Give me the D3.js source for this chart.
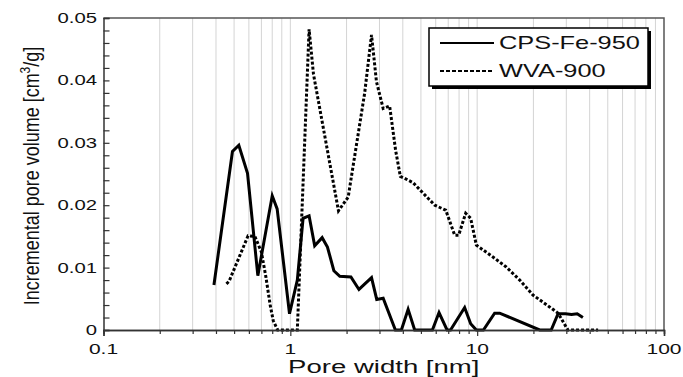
<!DOCTYPE html>
<html>
<head>
<meta charset="utf-8">
<script src="https://cdn.jsdelivr.net/npm/d3@7"></script>
<style>
  body { margin: 0; background: #fff; }
  text { font-family: "Liberation Sans", Arial, sans-serif; fill: #111; }
</style>
</head>
<body>
<script>
// CPS-Fe-950 (solid)
const cpsX = [0.39, 0.49, 0.53, 0.59, 0.67, 0.80, 0.85, 0.92, 0.99, 1.09, 1.17, 1.26, 1.35, 1.48, 1.58, 1.71, 1.84, 2.11, 2.33, 2.72, 2.9, 3.14, 3.65, 3.93, 4.27, 4.63, 5.76, 6.25, 6.9, 7.2, 8.57, 9.23, 9.9, 10.8, 12.4, 13.2, 21.6, 24.9, 27.1, 29.7, 32, 34.3, 36.8];
const cpsY = [0.0072, 0.0286, 0.0296, 0.0251, 0.0087, 0.0215, 0.0194, 0.0107, 0.0026, 0.008, 0.0179, 0.0183, 0.0135, 0.0148, 0.0133, 0.0095, 0.0086, 0.0085, 0.0065, 0.0084, 0.0049, 0.0051, 0, 0, 0.0033, 0, 0, 0.0028, 0, 0, 0.0036, 0.001, 0, 0, 0.0027, 0.0027, 0, 0, 0.0026, 0.0026, 0.0025, 0.0026, 0.002];

// WVA-900 (dotted)
const wvaX = [0.455, 0.47, 0.594, 0.646, 0.70, 0.74, 0.78, 0.81, 0.855, 1.09, 1.26, 1.33, 1.81, 2.04, 2.5, 2.72, 2.89, 3.14, 3.40, 3.66, 3.88, 4.09, 4.54, 5.93, 6.79, 7.58, 7.96, 8.68, 9.23, 9.9, 12.15, 14.3, 16.9, 19.9, 24.4, 27.1, 30.6, 44.4];
const wvaY = [0.0074, 0.0078, 0.0151, 0.0150, 0.0125, 0.0085, 0.004, 0.0015, 0, 0, 0.0482, 0.041, 0.0191, 0.0213, 0.038, 0.0473, 0.0398, 0.0355, 0.0359, 0.0288, 0.0246, 0.0243, 0.0236, 0.0200, 0.0192, 0.0152, 0.0152, 0.0187, 0.0179, 0.0136, 0.0117, 0.0101, 0.0080, 0.0056, 0.0037, 0.0027, 0, 0];

const xMajor = [0.1, 1, 10, 100];
const xMajorLabels = ['0.1', '1', '10', '100'];
const yMajor = [0, 0.01, 0.02, 0.03, 0.04, 0.05];
const yMajorLabels = ['0', '0.01', '0.02', '0.03', '0.04', '0.05'];
const seriesNames = ['CPS-Fe-950', 'WVA-900'];

const W = 683, H = 377;
const L = 103.5, R = 664, T = 18, B = 330;
const SX = 1.45; // horizontal text stretch of the original figure

const x = d3.scaleLog().domain([0.1, 100]).range([L, R]);
const y = d3.scaleLinear().domain([0, 0.05]).range([B, T]);

const svg = d3.select('body').append('svg')
    .attr('width', W)
    .attr('height', H);

// minor log positions
const xMinor = [];
[0.1, 1, 10].forEach(d => {
    for (let k = 2; k <= 9; k++) xMinor.push(d * k);
});

// vertical grid
svg.append('g')
    .selectAll('line')
    .data(xMinor.concat([1, 10]))
    .enter()
    .append('line')
    .attr('x1', d => x(d))
    .attr('x2', d => x(d))
    .attr('y1', T)
    .attr('y2', B)
    .attr('stroke', '#d4d4d4')
    .attr('stroke-width', 1);

// series
const line = d3.line()
    .x(d => x(d[0]))
    .y(d => y(d[1]));

svg.append('path')
    .datum(wvaX.map((v, i) => [v, wvaY[i]]))
    .attr('d', line)
    .attr('fill', 'none')
    .attr('stroke', '#000')
    .attr('stroke-width', 3)
    .attr('stroke-dasharray', '3,2');

svg.append('path')
    .datum(cpsX.map((v, i) => [v, cpsY[i]]))
    .attr('d', line)
    .attr('fill', 'none')
    .attr('stroke', '#000')
    .attr('stroke-width', 3)
    .attr('stroke-linejoin', 'miter');

// frame top/right
svg.append('path')
    .attr('d', `M${L},${T}H${R}V${B}`)
    .attr('fill', 'none')
    .attr('stroke', '#555')
    .attr('stroke-width', 1.5);

// x axis
const xAxisMinor = d3.axisBottom(x).tickValues(xMinor).tickSize(4).tickFormat('');
const xAxisMajor = d3.axisBottom(x).tickValues(xMajor).tickSize(6).tickFormat('');
svg.append('g').attr('transform', `translate(0,${B})`).call(xAxisMinor);
svg.append('g').attr('transform', `translate(0,${B})`).call(xAxisMajor);
svg.selectAll('.domain').attr('stroke', '#333').attr('stroke-width', 1.5);
svg.selectAll('.tick line').attr('stroke', '#333').attr('stroke-width', 1.2);

// y axis, ticks inward
const yTicks = d3.range(0, 0.0501, 0.002);
const gy = svg.append('g')
    .attr('transform', `translate(${L},0)`)
    .call(d3.axisLeft(y).tickValues(yTicks).tickSize(-6).tickFormat(''));
gy.select('.domain').attr('stroke', '#333').attr('stroke-width', 1.5);
gy.selectAll('.tick line').attr('stroke', '#333').attr('stroke-width', 1.2);

// tick labels
svg.append('g')
    .selectAll('text')
    .data(xMajor)
    .enter()
    .append('text')
    .attr('transform', d => `translate(${x(d)},354) scale(${SX},1)`)
    .attr('text-anchor', 'middle')
    .style('font-size', '14.5px')
    .text((d, i) => xMajorLabels[i]);

svg.append('g')
    .selectAll('text')
    .data(yMajor)
    .enter()
    .append('text')
    .attr('transform', d => `translate(97,${y(d) + 5}) scale(${SX},1)`)
    .attr('text-anchor', 'end')
    .style('font-size', '14px')
    .text((d, i) => yMajorLabels[i]);

// axis titles
svg.append('text')
    .attr('transform', `translate(${(L + R) / 2},373) scale(${SX},1)`)
    .attr('text-anchor', 'middle')
    .style('font-size', '19px')
    .text('Pore width [nm]');

const yTitle = svg.append('text')
    .attr('transform', 'translate(39,176) rotate(-90) scale(1,1.25)')
    .attr('text-anchor', 'middle')
    .style('font-size', '18px');
yTitle.append('tspan').text('Incremental pore volume [cm');
yTitle.append('tspan').attr('dy', -7).style('font-size', '12px').text('3');
yTitle.append('tspan').attr('dy', 7).text('/g]');

// legend
const lg = svg.append('g');
lg.append('rect')
    .attr('x', 432).attr('y', 31)
    .attr('width', 219).attr('height', 58)
    .attr('fill', '#000');
lg.append('rect')
    .attr('x', 429).attr('y', 28)
    .attr('width', 219).attr('height', 58)
    .attr('fill', '#fff')
    .attr('stroke', '#000')
    .attr('stroke-width', 1.5);

const legendRows = lg.selectAll('g.row')
    .data(seriesNames)
    .enter()
    .append('g')
    .attr('class', 'row')
    .attr('transform', (d, i) => `translate(0,${43 + i * 28})`);

legendRows.append('line')
    .attr('x1', 440).attr('x2', 494)
    .attr('y1', 0).attr('y2', 0)
    .attr('stroke', '#000')
    .attr('stroke-width', 2.2)
    .attr('stroke-dasharray', (d, i) => i === 1 ? '4,2' : null);

legendRows.append('text')
    .attr('transform', `translate(499,6) scale(${SX},1)`)
    .style('font-size', '17.5px')
    .text(d => d);
</script>
</body>
</html>
